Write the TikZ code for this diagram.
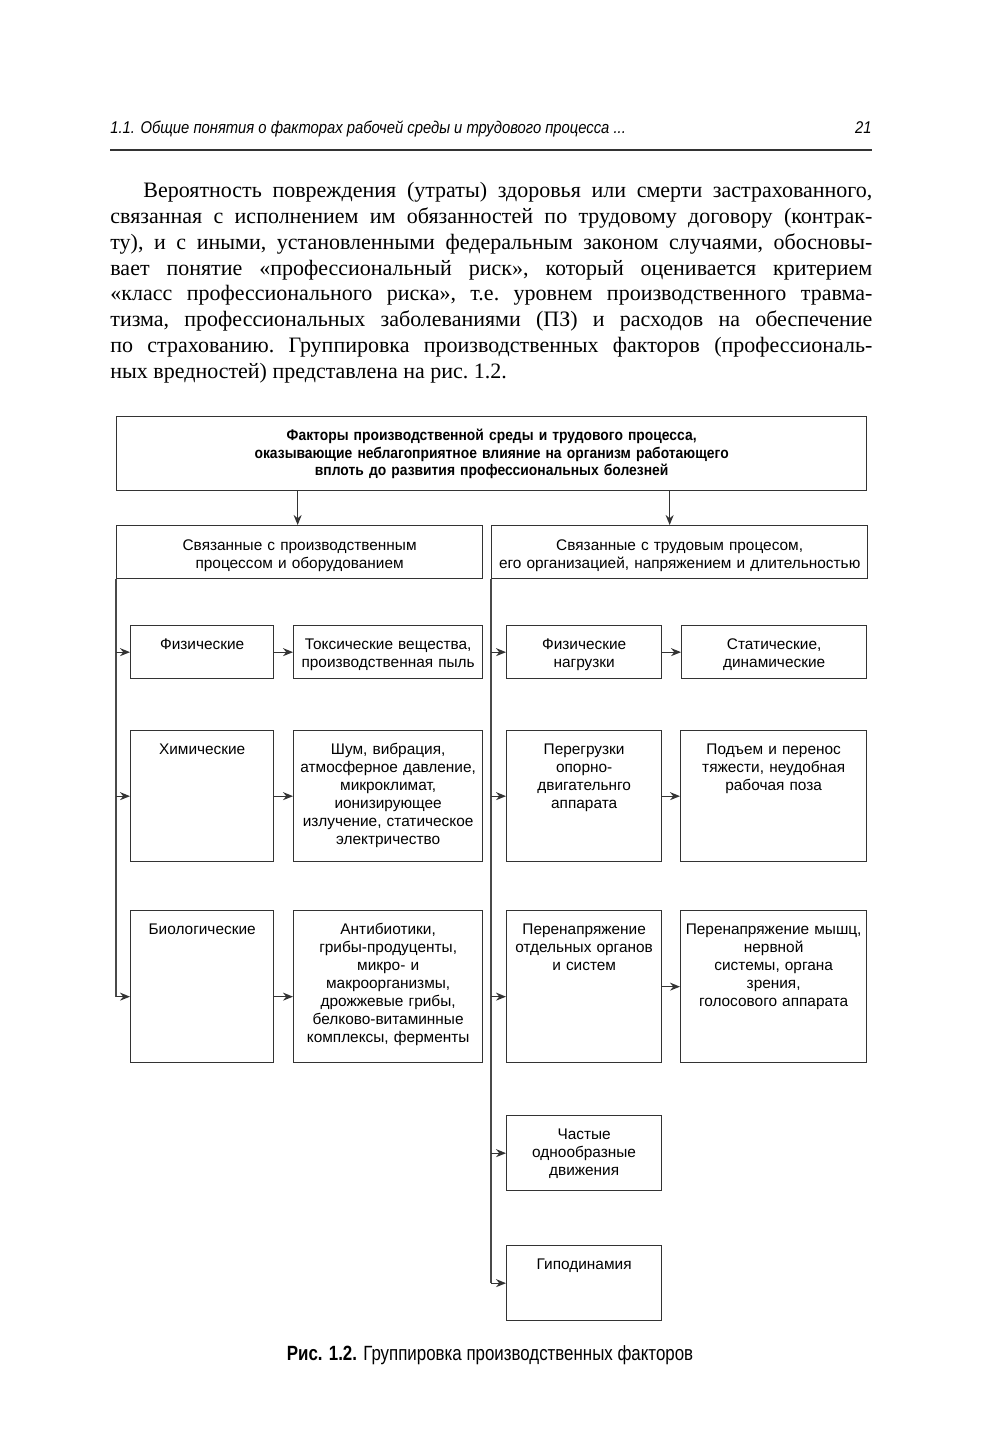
\documentclass[tikz,border=0pt]{standalone}
\usepackage{fontspec}
\setmainfont{Liberation Serif}
\newfontfamily\bodyfont{Liberation Serif}
\newfontfamily\boxfont{Liberation Sans}
\newfontfamily\topfont[FakeStretch=0.9]{Liberation Sans}
\newfontfamily\capfont[FakeStretch=0.82]{Liberation Sans}
\newfontfamily\hdfont[FakeStretch=0.87]{Liberation Sans}
\usetikzlibrary{arrows.meta}
\definecolor{lncol}{HTML}{333333}
\definecolor{trcol}{HTML}{4A4A4A}
\tikzset{
  box/.style={draw=lncol, line width=0.65pt, rectangle, inner sep=0pt},
  txt/.style={font=\boxfont\fontsize{7.7}{9}\selectfont, align=center, inner sep=0pt, text=black},
  arr/.style={draw=lncol, line width=0.65pt, -{Stealth[length=5pt,width=4pt]}},
  trunk/.style={draw=trcol, line width=1pt},
}
\newcommand\mybox[7]{%
  \node[box,anchor=north west,minimum width=#4*0.5pt,minimum height=#5*0.5pt] (#1) at (#2,#3) {};
  \node[txt,anchor=base,text width=#4*0.5pt] (#1t) at ([yshift=-#6]#1.north) {#7};}
\begin{document}
\begin{tikzpicture}[x=0.5pt,y=-0.5pt]
\useasboundingbox (0,0) rectangle (1000,1455);
\fill[white] (0,0) rectangle (1000,1455);

% page header
\node[anchor=base west, inner sep=0pt, font=\hdfont\itshape\fontsize{8.5}{10}\selectfont] (hd) at (110,134) {1.1. Общие понятия о факторах рабочей среды и трудового процесса ...};
\node[anchor=base east, inner sep=0pt, font=\hdfont\itshape\fontsize{8.5}{10}\selectfont] (pg) at (872,134) {21};
\coordinate (r1) at (110,150);
\coordinate (r2) at (872,150);
\draw[line width=0.8pt, draw=lncol] (r1) -- (r2);

% body paragraph
\node[anchor=base west, inner sep=0pt, text width=381pt, align=justify,
      font=\bodyfont\fontsize{11}{12.86}\selectfont] (body) at (110,198)
{\frenchspacing\tolerance=10000\hyphenpenalty=10000\hspace*{16.5pt}Вероятность повреждения (утраты) здоровья или смерти застрахованного,\linebreak
связанная с исполнением им обязанностей по трудовому договору (контрак-\linebreak
ту), и с иными, установленными федеральным законом случаями, обосновы-\linebreak
вает понятие «профессиональный риск», который оценивается критерием\linebreak
«класс профессионального риска», т.е. уровнем производственного травма-\linebreak
тизма, профессиональных заболеваниями (ПЗ) и расходов на обеспечение\linebreak
по страхованию. Группировка производственных факторов (профессиональ-\linebreak
ных вредностей) представлена на рис. 1.2.};

% boxes
\node[box,anchor=north west,minimum width=750*0.5pt,minimum height=74*0.5pt] (top) at (116,416) {};
\node[txt,anchor=base,text width=375pt,font=\topfont\bfseries\fontsize{7.7}{8.75}\selectfont] (topt) at ([yshift=-12.3pt]top.north)
  {Факторы производственной среды и трудового процесса,\\ оказывающие неблагоприятное влияние на организм работающего\\ вплоть до развития профессиональных болезней};

\mybox{lh}{116}{525}{366}{53}{12.5pt}{Связанные с производственным\\ процессом и оборудованием}
\mybox{rh}{491}{525}{376}{53}{12.5pt}{Связанные с трудовым процесом,\\ его организацией, напряжением и длительностью}

\mybox{fiz}{130}{625}{143}{53}{12pt}{Физические}
\mybox{tox}{293}{625}{189}{53}{12pt}{Токсические вещества,\\ производственная пыль}
\mybox{him}{130}{730}{143}{131}{12.3pt}{Химические}
\mybox{shum}{293}{730}{189}{131}{12.3pt}{Шум, вибрация,\\ атмосферное давление,\\ микроклимат,\\ ионизирующее\\ излучение, статическое\\ электричество}
\mybox{bio}{130}{910}{143}{152}{12.3pt}{Биологические}
\mybox{ant}{293}{910}{189}{152}{12.3pt}{Антибиотики,\\ грибы-продуценты,\\ микро- и\\ макроорганизмы,\\ дрожжевые грибы,\\ белково-витаминные\\ комплексы, ферменты}

\mybox{fn}{506}{625}{155}{53}{12pt}{Физические\\ нагрузки}
\mybox{stat}{681}{625}{185}{53}{12pt}{Статические,\\ динамические}
\mybox{per}{506}{730}{155}{131}{12.3pt}{Перегрузки\\ опорно-\\ двигательнго\\ аппарата}
\mybox{pod}{680}{730}{186}{131}{12.3pt}{Подъем и перенос\\ тяжести, неудобная\\ рабочая поза}
\mybox{po}{506}{910}{155}{152}{12.3pt}{Перенапряжение\\ отдельных органов\\ и систем}
\mybox{pm}{680}{910}{186}{152}{12.3pt}{Перенапряжение мышц,\\ нервной\\ системы, органа\\ зрения,\\ голосового аппарата}
\mybox{chast}{506}{1115}{155}{75}{12.3pt}{Частые\\ однообразные\\ движения}
\mybox{gipo}{506}{1245}{155}{75}{12.3pt}{Гиподинамия}

% connectors from top
\draw[arr] ([xshift=-1pt]lh.north |- top.south) -- ([xshift=-1pt]lh.north);
\draw[arr] ([xshift=-5pt]rh.north |- top.south) -- ([xshift=-5pt]rh.north);

% left trunk
\coordinate (bioin) at ([yshift=-5pt]bio.west);
\draw[trunk] (lh.south west) -- (lh.south west |- bioin);
\draw[arr] (lh.south west |- fiz.west) -- (fiz.west);
\draw[arr] (lh.south west |- him.west) -- (him.west);
\draw[arr] (lh.south west |- bioin) -- (bioin);

% right trunk
\coordinate (poin) at ([yshift=-5pt]po.west);
\draw[trunk] (rh.south west) -- (rh.south west |- gipo.west);
\draw[arr] (rh.south west |- fn.west) -- (fn.west);
\draw[arr] (rh.south west |- per.west) -- (per.west);
\draw[arr] (rh.south west |- poin) -- (poin);
\draw[arr] (rh.south west |- chast.west) -- (chast.west);
\draw[arr] (rh.south west |- gipo.west) -- (gipo.west);

% horizontal arrows
\draw[arr] (fiz.east) -- (tox.west);
\draw[arr] (him.east) -- (shum.west);
\draw[arr] ([yshift=-5pt]bio.east) -- ([yshift=-5pt]ant.west);
\draw[arr] (fn.east) -- (stat.west);
\draw[arr] (per.east) -- (pod.west);
\draw[arr] (pm.west -| po.east) -- (pm.west);

% caption
\node[anchor=base, inner sep=0pt, font=\capfont\fontsize{10.3}{12}\selectfont] (cap) at (490,1360)
  {\textbf{Рис. 1.2.} Группировка производственных факторов};
\end{tikzpicture}
\end{document}
